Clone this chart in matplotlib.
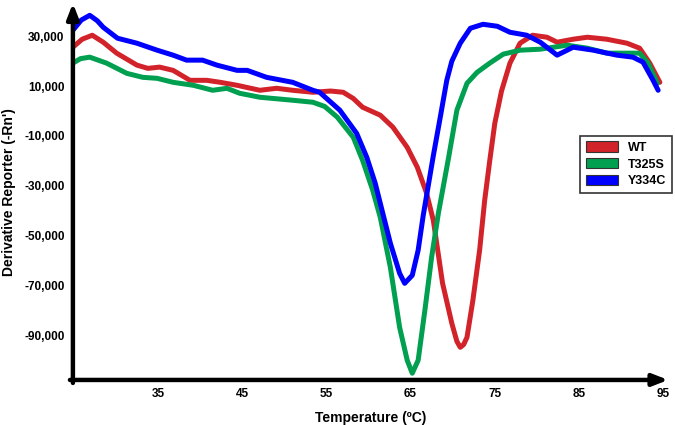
import matplotlib.pyplot as plt
from matplotlib.patches import Patch

# melt curve data (temperature, -dRn/dT)
wt_t = [24.9, 26.0, 27.2, 28.5, 30.1, 32.5, 33.8, 35.2, 36.8, 38.8, 40.8, 42.4, 44.4, 47.1,
        49.1, 51.0, 53.4, 55.5, 57.0, 58.2, 59.3, 61.4, 62.9, 64.6, 65.8, 66.9, 67.7, 68.8,
        69.9, 70.5, 70.9, 71.3, 71.7, 72.4, 73.2, 73.8, 74.4, 75.0, 75.8, 76.8, 78.0, 79.5,
        81.2, 82.4, 84.3, 86.0, 88.3, 90.7, 92.2, 93.4, 94.6]
wt_v = [25600, 28800, 30400, 27600, 23200, 18400, 17100, 17600, 16300, 12300, 12300, 11500,
        10300, 8300, 9100, 8300, 7500, 8000, 7500, 5000, 1500, -1700, -6500, -14600, -22600,
        -33000, -43900, -69200, -85300, -92500, -94900, -93800, -90900, -76000, -55900, -35900,
        -20000, -5000, 8000, 19200, 27200, 30400, 29600, 27600, 28800, 29600, 28800, 27200,
        25200, 19200, 11500]

t325s_t = [24.9, 25.8, 26.9, 28.9, 31.3, 33.2, 34.9, 36.8, 39.2, 41.5, 43.2, 44.7, 47.1, 51.0,
           53.4, 54.8, 56.3, 58.2, 59.3, 60.5, 61.4, 62.6, 63.7, 64.6, 65.2, 65.9, 66.7, 67.5,
           68.3, 69.5, 70.5, 71.7, 72.9, 74.4, 76.0, 78.0, 80.4, 83.6, 86.0, 88.3, 90.7, 92.2,
           93.2, 94.3]
t325s_v = [19200, 21000, 21600, 19200, 15100, 13500, 13100, 11500, 10300, 8300, 9100, 7100,
           5500, 4300, 3500, 1800, -2500, -10600, -19800, -31800, -42700, -62800, -86900,
           -100100, -105300, -100100, -80000, -58700, -41100, -19000, 300, 11100, 15500, 19200,
           22800, 24400, 24800, 26400, 25200, 23200, 23200, 23200, 19200, 11100]

y334c_t = [24.9, 25.9, 26.9, 27.8, 28.5, 30.2, 32.5, 34.9, 36.8, 38.4, 40.3, 42.0, 44.4, 45.6,
           47.9, 51.0, 53.4, 54.2, 56.6, 58.6, 59.8, 60.8, 61.7, 62.6, 63.7, 64.3, 65.2, 65.9,
           66.5, 67.1, 67.7, 68.5, 69.3, 69.9, 70.9, 72.1, 73.6, 75.3, 76.8, 78.8, 80.4, 82.4,
           83.6, 84.3, 86.7, 89.5, 91.4, 92.6, 93.8, 94.4]
y334c_v = [32400, 36500, 38400, 36200, 33600, 29200, 27200, 24400, 22400, 20400, 20400, 18400,
           16300, 16300, 13500, 11500, 8300, 7500, 300, -9000, -18600, -29000, -41100, -53100,
           -65200, -69200, -66000, -55900, -42000, -30000, -18000, -3000, 12300, 20000, 27200,
           33200, 34800, 34000, 31600, 30400, 27600, 22400, 24400, 25600, 24400, 22400, 21600,
           19600, 12300, 8300]

x_ticks = [35, 45, 55, 65, 75, 85, 95]
y_ticks = [-90000, -70000, -50000, -30000, -10000, 10000, 30000]

series = [('WT', wt_t, wt_v, '#D2232A'),
          ('T325S', t325s_t, t325s_v, '#00A050'),
          ('Y334C', y334c_t, y334c_v, '#0000FF')]

plt.rcParams['font.family'] = ['Liberation Sans', 'DejaVu Sans']

fig = plt.figure(figsize=(6.75, 4.25), dpi=100)
ax = fig.add_axes([0.108, 0.106, 0.882, 0.882])

for name, t, v, c in series:
    ax.plot(t, v, color=c, lw=3.6, solid_joinstyle='round', solid_capstyle='round')

ax.set_xlim(24.9, 95.6)
ax.set_ylim(-108000, 42500)
ax.set_xticks(x_ticks)
ax.set_yticks(y_ticks)
ax.set_yticklabels([f'{v:,}' for v in y_ticks])
ax.tick_params(length=0, labelsize=8.5, pad=6)
for lab in ax.get_xticklabels() + ax.get_yticklabels():
    lab.set_fontweight('bold')

for s in ax.spines.values():
    s.set_visible(False)

# axis arrows
ax.annotate('', xy=(0, 1.005), xytext=(0, -0.008), xycoords='axes fraction',
            arrowprops=dict(arrowstyle='-|>,head_length=0.9,head_width=0.35', lw=3.2, color='black',
                            shrinkA=0, shrinkB=0), annotation_clip=False)
ax.annotate('', xy=(1.0, 0), xytext=(-0.005, 0), xycoords='axes fraction',
            arrowprops=dict(arrowstyle='-|>,head_length=0.9,head_width=0.35', lw=3.2, color='black',
                            shrinkA=0, shrinkB=0), annotation_clip=False)

ax.set_xlabel('Temperature (ºC)', fontsize=10, fontweight='bold', labelpad=8)
ax.set_ylabel("Derivative Reporter (-Rn')", fontsize=10, fontweight='bold', labelpad=6)

handles = [Patch(facecolor=c, edgecolor='#333333', lw=0.8) for _, _, _, c in series]
leg = ax.legend(handles, [s[0] for s in series], loc='upper left', bbox_to_anchor=(0.852, 0.652),
                frameon=True, fancybox=False, edgecolor='black', fontsize=9,
                handlelength=2.6, handleheight=0.9, borderpad=0.45, labelspacing=0.35,
                handletextpad=0.8, borderaxespad=0)
leg.get_frame().set_linewidth(1.2)
for txt in leg.get_texts():
    txt.set_fontweight('bold')

fig.savefig('out.png', dpi=100)
